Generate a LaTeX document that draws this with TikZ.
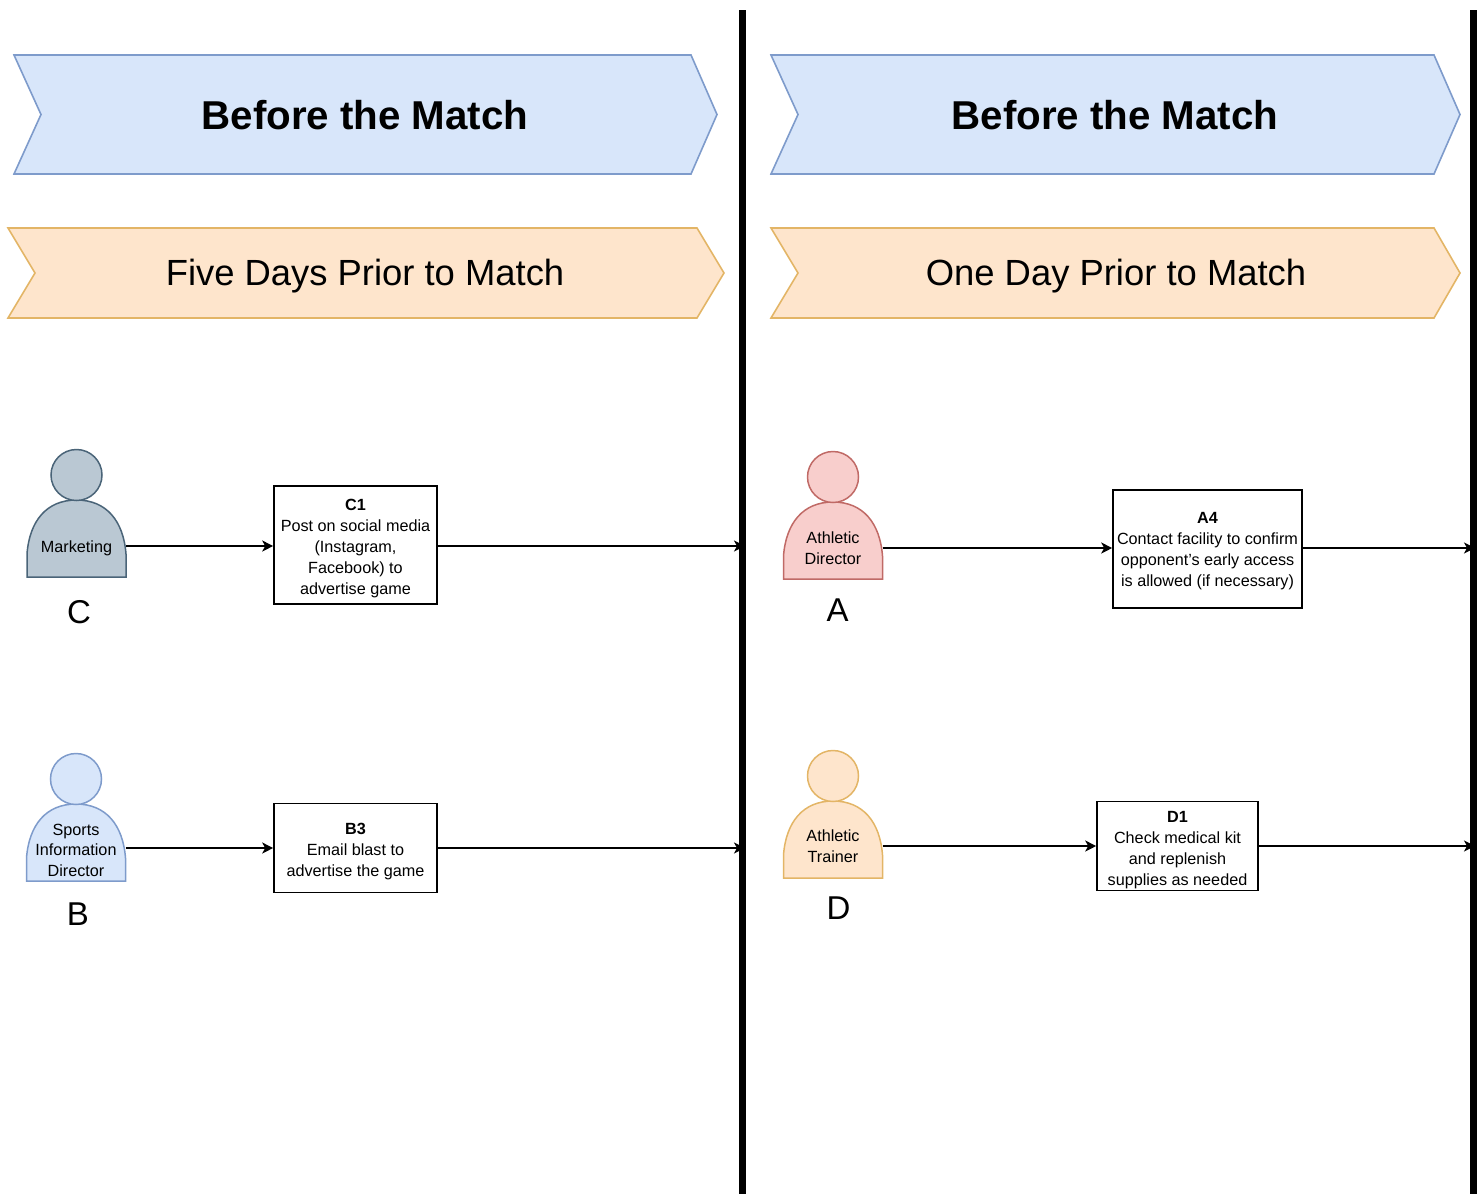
\documentclass[tikz,border=0pt]{standalone}
\usepackage{fontspec}
\setmainfont{Liberation Sans}
\usetikzlibrary{arrows.meta}
\definecolor{bluefill}{HTML}{D8E6FA}
\definecolor{blueline}{HTML}{7E9BCB}
\definecolor{orangefill}{HTML}{FEE5CC}
\definecolor{orangeline}{HTML}{E3B566}
\definecolor{redfill}{HTML}{F8CECC}
\definecolor{redline}{HTML}{C06A66}
\definecolor{greyfill}{HTML}{BAC8D3}
\definecolor{greyline}{HTML}{4A6478}
\newcommand{\topgap}[1][19pt]{\rule{0pt}{#1}}
\tikzset{
	banner/.style={draw=#1line, fill=#1fill, line width=1.6pt, line join=miter},
	actor/.style={draw=#1line, fill=#1fill, line width=1.5pt},
	title/.style={font=\fontsize{40.3}{44}\selectfont\bfseries},
	subtitle/.style={font=\fontsize{36.4}{39}\selectfont},
	actortext/.style={align=center, inner sep=0pt, minimum width=99pt, font=\fontsize{16.2}{20.5}\selectfont},
	letter/.style={font=\fontsize{33}{33}\selectfont},
	taskbox/.style={draw, line width=1.6pt, align=center, inner sep=0pt, font=\fontsize{16.2}{21}\selectfont},
	link/.style={line width=1.6pt, -{Stealth[length=11pt,width=11pt,inset=3pt]}},
}
\begin{document}
\begin{tikzpicture}[x=1pt,y=-1pt]
	\useasboundingbox (0,0) rectangle (1483,1194);
	% banners
	\draw [banner=blue] (14,55) -- (691,55) -- (717,114.5) -- (691,174) -- (14,174) -- (41,114.5) -- cycle;
	\draw [banner=blue] (771,55) -- (1434,55) -- (1460,114.5) -- (1434,174) -- (771,174) -- (798,114.5) -- cycle;
	\draw [banner=orange] (8,228) -- (697,228) -- (724,273) -- (697,318) -- (8,318) -- (35,273) -- cycle;
	\draw [banner=orange] (771,228) -- (1434,228) -- (1460,273) -- (1434,318) -- (771,318) -- (798,273) -- cycle;
	\node [title] (before1) at (365,115) {Before the Match};
	\node [title] (before2) at (1115,115) {Before the Match};
	\node [subtitle] (five) at (365,276) {Five Days Prior to Match};
	\node [subtitle] (one) at (1116,276) {One Day Prior to Match};
	% day separators
	\draw [line width=6.5pt] (742.5,10) -- (742.5,1194);
	\draw [line width=6.5pt] (1473.5,10) -- (1473.5,1194);
	% people
	\foreach \x/\y/\c in {76.5/449/grey, 76/753/blue, 833/451/red, 833/750/orange} {
		\begin{scope}[shift={(\x,\y)}]
			\draw [actor=\c] (-49.5,128) -- (-49.5,105) .. controls (-47,72) and (-30,51) .. (0,51)
				.. controls (30,51) and (47,72) .. (49.5,105) -- (49.5,128) -- cycle;
			\draw [actor=\c] (0,26) circle (25.5);
		\end{scope}
	}
	\node [actortext] (marketing) at (76.5,546) {\topgap[16pt]Marketing};
	\node [actortext] (sports) at (76,850) {Sports\\Information\\Director};
	\node [actortext] (director) at (833,548) {Athletic\\Director};
	\node [actortext] (trainer) at (833,846) {Athletic\\Trainer};
	\node [letter] (letterC) at (79,612) {C};
	\node [letter] (letterB) at (78,914) {B};
	\node [letter] (letterA) at (837.5,610) {A};
	\node [letter] (letterD) at (838.5,908) {D};
	% tasks
	\node [taskbox, minimum width=163pt, minimum height=118pt] (c1) at (355.5,545) {\topgap\textbf{C1}\\Post on social media\\(Instagram,\\Facebook) to\\advertise game};
	\node [taskbox, minimum width=163pt, minimum height=89pt] (b3) at (355.5,848) {\topgap\textbf{B3}\\Email blast to\\advertise the game};
	\node [taskbox, minimum width=189pt, minimum height=118pt] (a4) at (1207.5,549) {\topgap[15pt]\textbf{A4}\\Contact facility to confirm\\opponent's early access\\is allowed (if necessary)};
	\node [taskbox, minimum width=161pt, minimum height=89pt] (d1) at (1177.5,846) {\topgap\textbf{D1}\\Check medical kit\\and replenish\\supplies as needed};
	\coordinate (endC) at (745,546);
	\coordinate (endB) at (745,848);
	\coordinate (endA) at (1475,548);
	\coordinate (endD) at (1475,846);
	\draw [link] (marketing) -- (marketing -| c1.west);
	\draw [link] (endB -| sports.east) -- (endB -| b3.west);
	\draw [link] (director) -- (director -| a4.west);
	\draw [link] (trainer) -- (trainer -| d1.west);
	\draw [link] (endC -| c1.east) -- (endC);
	\draw [link] (endB -| b3.east) -- (endB);
	\draw [link] (endA -| a4.east) -- (endA);
	\draw [link] (endD -| d1.east) -- (endD);
\end{tikzpicture}
\end{document}
